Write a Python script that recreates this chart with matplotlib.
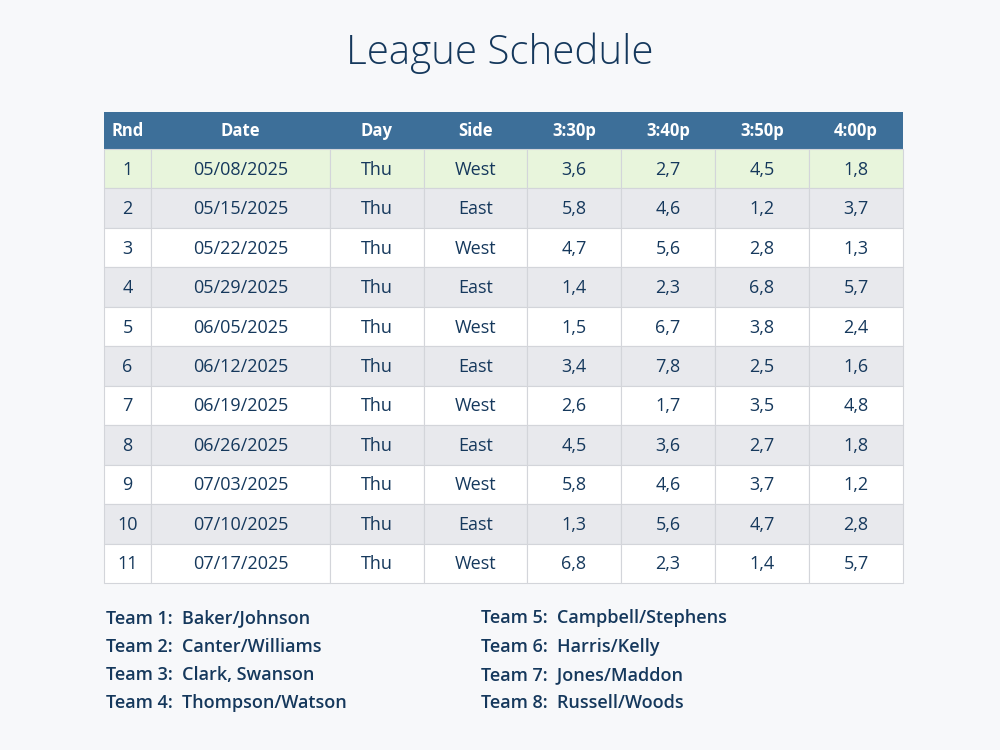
import matplotlib.pyplot as plt
from matplotlib.patches import Rectangle

plt.rcParams['font.family'] = ['Open Sans', 'DejaVu Sans']

headers = ["Rnd", "Date", "Day", "Side", "3:30p", "3:40p", "3:50p", "4:00p"]
rounds = [1, 2, 3, 4, 5, 6, 7, 8, 9, 10, 11]
dates = ["05/08/2025", "05/15/2025", "05/22/2025", "05/29/2025", "06/05/2025",
         "06/12/2025", "06/19/2025", "06/26/2025", "07/03/2025", "07/10/2025",
         "07/17/2025"]
days = ["Thu"] * 11
sides = ["West", "East"] * 5 + ["West"]
slot_330 = ["3,6", "5,8", "4,7", "1,4", "1,5", "3,4", "2,6", "4,5", "5,8", "1,3", "6,8"]
slot_340 = ["2,7", "4,6", "5,6", "2,3", "6,7", "7,8", "1,7", "3,6", "4,6", "5,6", "2,3"]
slot_350 = ["4,5", "1,2", "2,8", "6,8", "3,8", "2,5", "3,5", "2,7", "3,7", "4,7", "1,4"]
slot_400 = ["1,8", "3,7", "1,3", "5,7", "2,4", "1,6", "4,8", "1,8", "1,2", "2,8", "5,7"]
teams = ["Baker/Johnson", "Canter/Williams", "Clark, Swanson", "Thompson/Watson",
         "Campbell/Stephens", "Harris/Kelly", "Jones/Maddon", "Russell/Woods"]

NAVY = "#15385c"
HEAD = "#3d6f99"
BG = "#f7f8fa"

fig = plt.figure(figsize=(10, 7.5), dpi=100, facecolor=BG)
ax = fig.add_axes([0, 0, 1, 1])
ax.set_xlim(0, 1000)
ax.set_ylim(750, 0)
ax.axis("off")

ax.text(500, 53, "League Schedule", ha="center", va="center", fontsize=29,
        color=NAVY, fontweight="light")

col_edges = [104, 151, 330, 424, 527, 621, 715, 809, 903]
top, head_h, row_h = 112, 37, 39.45

ax.add_patch(Rectangle((col_edges[0], top), col_edges[-1] - col_edges[0], head_h,
                       facecolor=HEAD, edgecolor="none"))
for i, h in enumerate(headers):
    cx = (col_edges[i] + col_edges[i + 1]) / 2
    ax.text(cx, top + head_h / 2 + 1, h, ha="center", va="center", fontsize=12,
            fontweight="bold", color="white")

columns = [[str(r) for r in rounds], dates, days, sides, slot_330, slot_340, slot_350, slot_400]
for r in range(len(rounds)):
    y0 = top + head_h + r * row_h
    if r == 0:
        fc = "#e8f5dc"
    elif r % 2 == 1:
        fc = "#e8e9ed"
    else:
        fc = "white"
    for c in range(len(headers)):
        ax.add_patch(Rectangle((col_edges[c], y0), col_edges[c + 1] - col_edges[c], row_h,
                               facecolor=fc, edgecolor="#d3d5da", linewidth=0.8))
        cx = (col_edges[c] + col_edges[c + 1]) / 2
        ax.text(cx, y0 + row_h / 2 + 1, columns[c][r], ha="center", va="center",
                fontsize=13, color=NAVY, fontweight="medium")

for i, name in enumerate(teams):
    x = 106 if i < 4 else 481
    y = 618 + (i % 4) * 28.5
    ax.text(x, y, f"Team {i + 1}:  {name}", ha="left", va="center",
            fontsize=13, color=NAVY, fontweight="semibold")

fig.savefig("out.png", dpi=100, facecolor=BG)
